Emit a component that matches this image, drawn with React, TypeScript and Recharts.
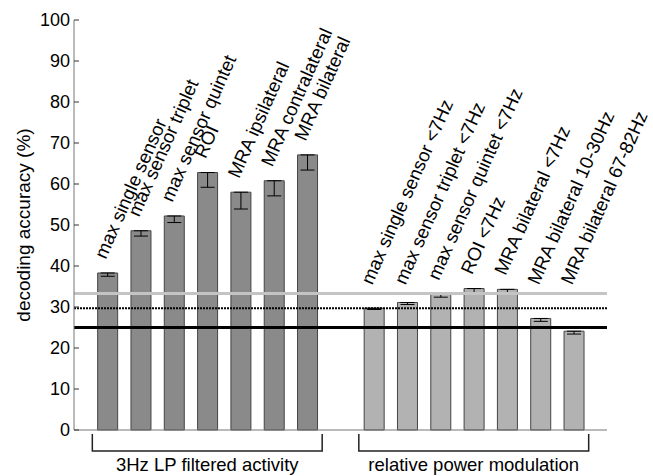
import React from 'react'
import { BarChart, Bar, XAxis, YAxis, ErrorBar, Cell, LabelList, ReferenceLine } from 'recharts'

// decoding accuracy per feature set (%)
const lpLabels = [
  'max single sensor',
  'max sensor triplet',
  'max sensor quintet',
  'ROI',
  'MRA ipsilateral',
  'MRA contralateral',
  'MRA bilateral',
]
const lpValues = [38.3, 48.6, 52.2, 62.8, 58.0, 60.8, 67.1]
const lpErrors = [0.8, 1.3, 1.6, 3.6, 4.1, 3.7, 3.7]

const powLabels = [
  'max single sensor <7Hz',
  'max sensor triplet <7Hz',
  'max sensor quintet <7Hz',
  'ROI <7Hz',
  'MRA bilateral <7Hz',
  'MRA bilateral 10-30Hz',
  'MRA bilateral 67-82Hz',
]
const powValues = [29.7, 31.1, 33.1, 34.5, 34.3, 27.2, 24.1]
const powErrors = [0.3, 0.5, 0.7, 1.0, 1.0, 0.7, 0.7]

const groupNames = ['3Hz LP filtered activity', 'relative power modulation']
const yTicks = [0, 10, 20, 30, 40, 50, 60, 70, 80, 90, 100]

// chance level and significance thresholds
const chanceLevel = 25
const thresholdLines = [
  { y: 33.3, stroke: '#c4c4c4', width: 3, dash: undefined },
  { y: 29.7, stroke: '#000', width: 2, dash: '2 1' },
]

// labels never start below this level, so they clear the threshold lines
const labelFloor = 32

const FONT = '"Liberation Sans", Arial, sans-serif'
const DARK = '#8a8a8a'
const LIGHT = '#b2b2b2'

const data = [
  ...lpLabels.map((name, i) => ({ x: i + 1, name, value: lpValues[i], err: [lpErrors[i], 0], group: 0 })),
  ...powLabels.map((name, i) => ({ x: lpLabels.length + 2 + i, name, value: powValues[i], err: [powErrors[i], 0], group: 1 })),
]

const groups = [0, 1].map((g) => {
  const xs = data.filter((d) => d.group === g).map((d) => d.x)
  return { name: groupNames[g], start: Math.min(...xs) - 0.45, end: Math.max(...xs) + 0.45 }
})

const YTick = (props: any) => {
  const { x, y, payload } = props
  return (
    <g>
      <line x1={x + 4} x2={x + 9} y1={y} y2={y} stroke="#333" strokeWidth={1} />
      <text x={x} y={y} dy={6} textAnchor="end" fontSize={18} fontFamily={FONT} fill="#000">
        {payload.value}
      </text>
    </g>
  )
}

const BarLabel = (props: any) => {
  const { x, y, width, height, value, index } = props
  const v = data[index].value
  // pixel per unit from the bar itself
  const base = y + height
  const floorY = base - (height / v) * labelFloor
  const top = Math.min(y, floorY)
  const px = x + width / 2 - 2
  const py = top - 13
  return (
    <text
      x={px}
      y={py}
      transform={`rotate(-66 ${px} ${py})`}
      textAnchor="start"
      fontSize={18.7}
      fontFamily={FONT}
      fill="#000"
    >
      {value}
    </text>
  )
}

const bracketShape = (label: string) => (props: any) => {
  const { x1, x2, y1 } = props
  const top = y1 + 4
  const bot = y1 + 21
  return (
    <g>
      <polyline
        points={`${x1},${top} ${x1},${bot} ${x2},${bot} ${x2},${top}`}
        fill="none"
        stroke="#222"
        strokeWidth={1.5}
      />
      <text x={(x1 + x2) / 2} y={bot + 20} textAnchor="middle" fontSize={18.5} fontFamily={FONT} fill="#000">
        {label}
      </text>
    </g>
  )
}

export default function App() {
  return (
    <div style={{ position: 'absolute', left: 0, top: 0, background: '#fff' }}>
      <BarChart width={653} height={476} data={data} margin={{ top: 20, right: 46, bottom: 45, left: 10 }}>
        <XAxis
          type="number"
          dataKey="x"
          domain={[0, 16]}
          ticks={[]}
          tick={false}
          tickLine={false}
          height={1}
          axisLine={{ stroke: '#777' }}
        />
        <YAxis
          domain={[0, 100]}
          ticks={yTicks}
          width={64}
          tickLine={false}
          tickMargin={4}
          tickSize={0}
          tick={<YTick />}
          axisLine={{ stroke: '#777' }}
          label={{
            value: 'decoding accuracy (%)',
            angle: -90,
            position: 'insideLeft',
            dx: 8,
            dy: 0,
            style: { fontSize: 19, fontFamily: FONT, fill: '#000', textAnchor: 'middle' },
          }}
        />
        <Bar dataKey="value" barSize={20} stroke="#444" strokeWidth={1} isAnimationActive={false}>
          {data.map((d, i) => (
            <Cell key={i} fill={d.group === 0 ? DARK : LIGHT} />
          ))}
          <ErrorBar dataKey="err" width={7} stroke="#000" strokeWidth={1} direction="y" isAnimationActive={false} />
          <LabelList dataKey="name" content={<BarLabel />} />
        </Bar>
        {thresholdLines.map((l, i) => (
          <ReferenceLine key={i} y={l.y} stroke={l.stroke} strokeWidth={l.width} strokeDasharray={l.dash} />
        ))}
        <ReferenceLine y={chanceLevel} stroke="#000" strokeWidth={3} />
        {groups.map((g, i) => (
          <ReferenceLine
            key={'g' + i}
            segment={[{ x: g.start, y: 0 }, { x: g.end, y: 0 }]}
            ifOverflow="visible"
            shape={bracketShape(g.name)}
          />
        ))}
      </BarChart>
    </div>
  )
}
